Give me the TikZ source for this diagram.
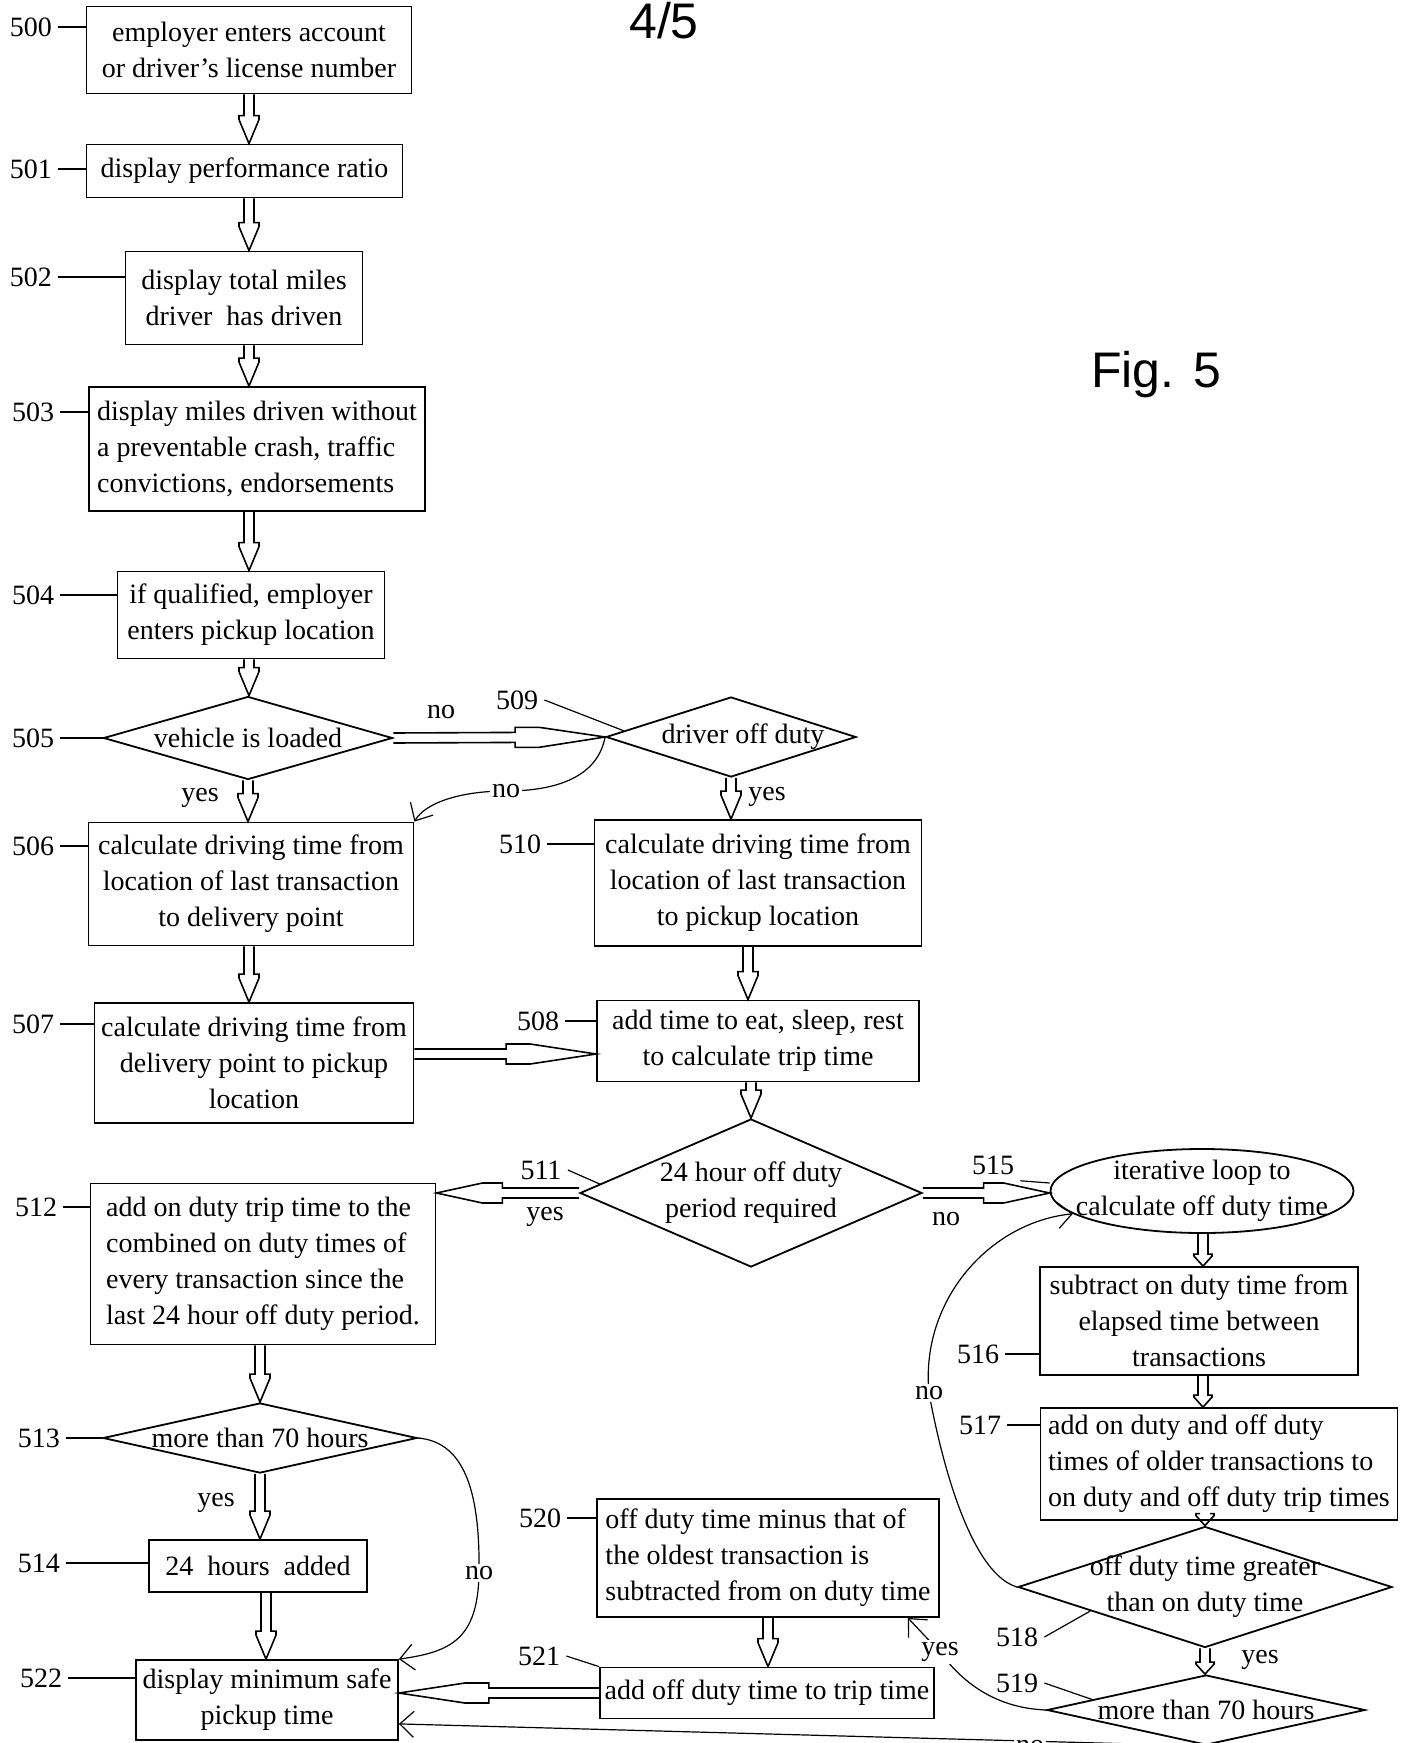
\documentclass[tikz,border=0pt]{standalone}
\usepackage{fontspec}
\setmainfont{Liberation Serif}
\newfontfamily\figfont{Liberation Sans}
\usepackage{tikz}
\usetikzlibrary{positioning}
\usetikzlibrary{shapes}
\usetikzlibrary{calc}
\usetikzlibrary{arrows.meta}

\tikzset{
box/.style={draw,line width=0.9pt,rectangle,inner sep=2pt,align=center},
dia/.style={draw,line width=0.9pt,diamond,inner sep=0pt},
oval/.style={draw,line width=0.9pt,ellipse,inner sep=0pt},
refnum/.style={inner sep=3pt},
lead/.style={line width=0.6pt},
thinarrow/.style={line width=0.6pt,-{Straight Barb[length=7pt,width=13pt]}},
cut/.style={fill=white,inner sep=1pt}
}

\newcommand{\arrowdims}[4]{\def\shaftw{#1}\def\headw{#2}\def\headl{#3}\def\shoulder{#4}}
\newcommand{\bigarrow}[2]{%
\coordinate (ha) at (#1);
\coordinate (hb) at (#2);
\coordinate (hc) at ($(hb)!\headl!(ha)$);
\coordinate (hd) at ($(hb)!\headl-\shoulder!(ha)$);
\draw [line width=0.8pt,line join=miter] ($(ha)!\shaftw!90:(hb)$) -- ($(hc)!\shaftw!90:(hb)$) -- ($(hc)!\headw!90:(hb)$) -- ($(hd)!\headw!90:(hb)$) -- (hb) -- ($(hd)!\headw!-90:(hb)$) -- ($(hc)!\headw!-90:(hb)$) -- ($(hc)!\shaftw!-90:(hb)$) -- ($(ha)!\shaftw!-90:(hb)$);}

\begin{document}
\begin{tikzpicture}[x=0.5pt,y=-0.5pt,font=\fontsize{14}{18}\selectfont]
\useasboundingbox (0,0) rectangle (1405,1743);
\clip (0,0) rectangle (1405,1743);

\node[font=\figfont\fontsize{25}{30}\selectfont] (page) at (664,21) {4/5};
\node[font=\figfont\fontsize{25}{30}\selectfont] (fig) at (1156,375) {Fig. 5};

\node[box,minimum width=162.5pt,minimum height=43.5pt] (b500) at (249,50) {employer enters account\\or driver’s license number};
\node[box,minimum width=158pt,minimum height=26.5pt] (b501) at (244.5,171) {display performance ratio};
\node[box,minimum width=118.5pt,minimum height=46.5pt] (b502) at (244,298) {display total miles\\driver~ has driven};
\node[box,align=left,minimum width=168pt,minimum height=62pt] (b503) at (257,449) {display miles driven without\\a preventable crash, traffic\\convictions, endorsements};
\node[box,minimum width=133.5pt,minimum height=43.5pt] (b504) at (251,615) {if qualified, employer\\enters pickup location};
\node[dia,minimum width=144.5pt,minimum height=41.5pt] (d505) at (248,738) {};
\node (t505) at (d505) {vehicle is loaded};
\node[dia,minimum width=125pt,minimum height=40pt] (d509) at (731,737) {};
\node (t509) at ($(d509)+(12,0)$) {driver off duty};
\node[box,minimum width=162.5pt,minimum height=61.5pt] (b506) at (251,884) {calculate driving time from\\location of last transaction\\to delivery point};
\node[box,minimum width=163.5pt,minimum height=63pt] (b510) at (758,883) {calculate driving time from\\location of last transaction\\to pickup location};
\node[box,minimum width=159.5pt,minimum height=60pt] (b507) at (254,1063) {calculate driving time from\\delivery point to pickup\\location};
\node[box,minimum width=161pt,minimum height=40.5pt] (b508) at (758,1041) {add time to eat, sleep, rest\\to calculate trip time};
\node[dia,minimum width=171pt,minimum height=74pt] (d511) at (751,1193) {};
\node[align=center] (t511) at (d511) {24 hour off duty\\period required};
\node[box,align=left,minimum width=172.5pt,minimum height=80.5pt] (b512) at (263,1264) {add on duty trip time to the\\combined on duty times of\\every transaction since the\\last 24 hour off duty period.};
\node[oval,minimum width=151.5pt,minimum height=42pt] (e515) at (1202,1191) {};
\node[align=center] (t515) at (e515) {iterative loop to\\calculate off duty time};
\node[box,minimum width=159pt,minimum height=54pt] (b516) at (1199,1321) {subtract on duty time from\\elapsed time between\\transactions};
\node[box,align=left,minimum width=178.5pt,minimum height=56pt] (b517) at (1219,1464) {add on duty and off duty\\times of older transactions to\\on duty and off duty trip times};
\node[dia,minimum width=187pt,minimum height=60.5pt] (d518) at (1205,1587) {};
\node[align=center] (t518) at (d518) {off duty time greater\\than on duty time};
\node[dia,minimum width=159pt,minimum height=35pt] (d519) at (1206,1710) {};
\node (t519) at (d519) {more than 70 hours};
\node[dia,minimum width=157pt,minimum height=35pt] (d513) at (260,1438) {};
\node (t513) at (d513) {more than 70 hours};
\node[box,minimum width=109pt,minimum height=26pt] (b514) at (258,1566) {24~ hours~ added};
\node[box,minimum width=131pt,minimum height=40pt] (b522) at (267,1700) {display minimum safe\\pickup time};
\node[box,align=left,minimum width=171pt,minimum height=59pt] (b520) at (768,1558) {off duty time minus that of\\the oldest transaction is\\subtracted from on duty time};
\node[box,minimum width=167pt,minimum height=25.5pt] (b521) at (767,1693) {add off duty time to trip time};

\node[refnum] (r500) at (31,27) {500};
\node[refnum] (r501) at (31,169) {501};
\node[refnum] (r502) at (31,277) {502};
\node[refnum] (r503) at (33,412) {503};
\node[refnum] (r504) at (33,595) {504};
\node[refnum] (r505) at (33,738) {505};
\node[refnum] (r506) at (33,846) {506};
\node[refnum] (r507) at (33,1024) {507};
\node[refnum] (r512) at (36,1207) {512};
\node[refnum] (r513) at (39,1438) {513};
\node[refnum] (r514) at (39,1563) {514};
\node[refnum] (r522) at (41,1678) {522};
\node[refnum] (r509) at (517,700) {509};
\node[refnum] (r510) at (520,844) {510};
\node[refnum] (r508) at (538,1021) {508};
\node[refnum] (r511) at (541,1170) {511};
\node[refnum] (r520) at (540,1518) {520};
\node[refnum] (r521) at (539,1656) {521};
\node[refnum] (r515) at (993,1165) {515};
\node[refnum] (r516) at (978,1354) {516};
\node[refnum] (r517) at (980,1425) {517};
\node[refnum] (r518) at (1017,1637) {518};
\node[refnum] (r519) at (1017,1683) {519};

\foreach \i in {500,501,502,503,504,506,507,508,510,512,514,516,517,520,522}
  \draw[lead] (r\i.east) -- (r\i.east -| b\i.west);
\foreach \i in {505,513}
  \draw[lead] (r\i.east) -- (r\i.east -| d\i.west);
\draw[lead] (r509.east) -- ($(d509.west)!0.15!(d509.north)$);
\draw[lead] (r511.east) -- ($(d511.west)!0.12!(d511.north)$);
\draw[lead] (r515.south east) -- ($(e515.west)+(0,-8)$);
\draw[lead] (r518.east) -- ($(d518.west)!0.39!(d518.south)$);
\draw[lead] (r519.east) -- ($(d519.west)!0.29!(d519.north)$);
\draw[lead] (r521.east) -- (b521.north west);

\coordinate (colA) at (249,0);
\coordinate (colB) at (748,0);
\coordinate (colC) at (266,0);
\coordinate (colD) at (1203,0);
\coordinate (row507) at (0,1054);

\arrowdims{2.5pt}{5pt}{14pt}{2pt}
\bigarrow{colA |- b500.south}{colA |- b501.north}
\bigarrow{colA |- b501.south}{colA |- b502.north}
\bigarrow{colA |- b502.south}{colA |- b503.north}
\bigarrow{colA |- b503.south}{colA |- b504.north}
\bigarrow{colA |- b504.south}{colA |- d505.north}
\bigarrow{d505.south}{d505.south |- b506.north}
\bigarrow{colA |- b506.south}{colA |- b507.north}
\bigarrow{d509.south}{d509.south |- b510.north}
\bigarrow{colB |- b510.south}{colB |- b508.north}
\bigarrow{d511.north |- b508.south}{d511.north}
\bigarrow{d513.north |- b512.south}{d513.north}
\bigarrow{d513.south}{d513.south |- b514.north}
\bigarrow{colC |- b514.south}{colC |- b522.north}
\bigarrow{b520.south}{b520.south |- b521.north}

\arrowdims{2.5pt}{5pt}{45pt}{12pt}
\bigarrow{d505.east}{d509.west}
\bigarrow{b507.east |- row507}{b508.west |- row507}
\bigarrow{b521.west}{b522.east |- b521.west}
\arrowdims{2.5pt}{5pt}{33pt}{10pt}
\bigarrow{d511.west}{b512.east |- d511.west}
\bigarrow{d511.east}{e515.west |- d511.east}

\arrowdims{2.5pt}{4.5pt}{6pt}{1pt}
\bigarrow{colD |- e515.south}{colD |- b516.north}
\bigarrow{colD |- b516.south}{colD |- b517.north}
\bigarrow{$(d518.north)+(0,-12)$}{d518.north}
\bigarrow{d518.south}{d518.south |- d519.north}

\draw[thinarrow] (d509.west) .. controls (598,775) and (560,791) .. (506,791) node[cut] (no509) {no} .. controls (460,791) and (425,803) .. (b506.north east);
\draw[thinarrow] (d513.east) .. controls (468,1442) and (480,1500) .. (479,1573) node[cut] (no513) {no} .. controls (478,1640) and (450,1652) .. (b522.north east);
\draw[thinarrow] (d518.west) .. controls (975,1575) and (945,1480) .. (929,1393) node[cut] (no518) {no} .. controls (920,1300) and (990,1222) .. (e515.190);
\draw[thinarrow] (d519.west) .. controls (995,1708) and (962,1682) .. (940,1652) node[cut] (yes519) {yes} -- ($(b520.south east)+(-32,0)$);
\draw[thinarrow] (d519.south) -- ($(b522.south east)+(0,-17)$);
\node[cut] (no519) at (1030,1747) {no};

\node (yes505) at (200,798) {yes};
\node (no505) at (441,712) {no};
\node (yes509) at (767,797) {yes};
\node (yes511) at (545,1217) {yes};
\node (no511) at (946,1219) {no};
\node (yes513) at (216,1503) {yes};
\node (yes518) at (1260,1660) {yes};
\end{tikzpicture}
\end{document}
